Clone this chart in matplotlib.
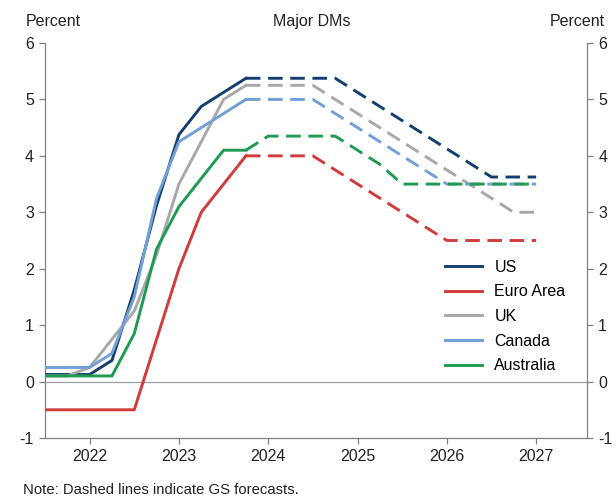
import matplotlib
matplotlib.use('Agg')
import matplotlib.pyplot as plt

plt.rcParams['font.family'] = ['Liberation Sans', 'DejaVu Sans']

# quarter-end dates as decimal years
hist_x = [2021.5, 2021.75, 2022.0, 2022.25, 2022.5, 2022.75, 2023.0, 2023.25, 2023.5, 2023.75]
fcst_x = [2023.75, 2024.0, 2024.25, 2024.5, 2024.75, 2025.0, 2025.25, 2025.5,
          2025.75, 2026.0, 2026.25, 2026.5, 2026.75, 2027.0]

# policy rates, percent
us_hist = [0.125, 0.125, 0.125, 0.375, 1.625, 3.125, 4.375, 4.875, 5.125, 5.375]
us_fcst = [5.375, 5.375, 5.375, 5.375, 5.375, 5.125, 4.875, 4.625, 4.375, 4.125, 3.875, 3.625, 3.625, 3.625]
ea_hist = [-0.5, -0.5, -0.5, -0.5, -0.5, 0.75, 2.0, 3.0, 3.5, 4.0]
ea_fcst = [4.0, 4.0, 4.0, 4.0, 3.75, 3.5, 3.25, 3.0, 2.75, 2.5, 2.5, 2.5, 2.5, 2.5]
uk_hist = [0.1, 0.1, 0.25, 0.75, 1.25, 2.25, 3.5, 4.25, 5.0, 5.25]
uk_fcst = [5.25, 5.25, 5.25, 5.25, 5.0, 4.75, 4.5, 4.25, 4.0, 3.75, 3.5, 3.25, 3.0, 3.0]
ca_hist = [0.25, 0.25, 0.25, 0.5, 1.5, 3.25, 4.25, 4.5, 4.75, 5.0]
ca_fcst = [5.0, 5.0, 5.0, 5.0, 4.75, 4.5, 4.25, 4.0, 3.75, 3.5, 3.5, 3.5, 3.5, 3.5]
au_hist = [0.1, 0.1, 0.1, 0.1, 0.85, 2.35, 3.1, 3.6, 4.1, 4.1]
au_fcst = [4.1, 4.35, 4.35, 4.35, 4.35, 4.1, 3.85, 3.5, 3.5, 3.5, 3.5, 3.5, 3.5, 3.5]

series = [
    ('US', us_hist, us_fcst, '#123f6e'),
    ('Euro Area', ea_hist, ea_fcst, '#d13b3b'),
    ('UK', uk_hist, uk_fcst, '#a8a8a8'),
    ('Canada', ca_hist, ca_fcst, '#729fd6'),
    ('Australia', au_hist, au_fcst, '#1f9a52'),
]

year_ticks = [2022, 2023, 2024, 2025, 2026, 2027]
y_ticks = [-1, 0, 1, 2, 3, 4, 5, 6]

fs = 11.5
txt = '#222222'
fig = plt.figure(figsize=(6.16, 5.0), dpi=100)
ax = fig.add_axes([0.073, 0.124, 0.880, 0.790])

ax.axhline(0, color='#a0a0a0', lw=0.9, zorder=1)

for name, h, f, c in series:
    ax.plot(hist_x, h, color=c, lw=2.1, label=name, solid_joinstyle='miter', zorder=3)
    ax.plot(fcst_x, f, color=c, lw=2.1, dashes=(5, 2.6), zorder=3)

ax.set_xlim(2021.5, 2027.57)
ax.set_ylim(-1, 6)
ax.set_xticks(year_ticks)
ax.set_xticklabels([str(y) for y in year_ticks], fontsize=fs)
ax.set_yticks(y_ticks)
ax.set_yticklabels([str(v) for v in y_ticks], fontsize=fs)
ax.tick_params(axis='both', direction='out', length=4.5, width=0.9, color='#808080',
               labelcolor=txt, pad=3.5)
ax.tick_params(axis='y', right=True, labelright=True)

for side in ['left', 'right', 'bottom']:
    ax.spines[side].set_color('#808080')
    ax.spines[side].set_linewidth(0.9)
ax.spines['top'].set_visible(False)

ax.legend(loc='lower left', bbox_to_anchor=(0.726, 0.148), frameon=False, fontsize=fs,
          handlelength=2.3, handletextpad=0.8, labelspacing=0.6, borderaxespad=0)

fig.text(0.042, 0.957, 'Percent', fontsize=fs, color=txt, va='center')
fig.text(0.506, 0.957, 'Major DMs', fontsize=fs, color=txt, va='center', ha='center')
fig.text(0.982, 0.957, 'Percent', fontsize=fs, color=txt, va='center', ha='right')
fig.text(0.037, 0.019, 'Note: Dashed lines indicate GS forecasts.', fontsize=10.7,
         color=txt, va='center')

fig.savefig('out.png', dpi=100)
